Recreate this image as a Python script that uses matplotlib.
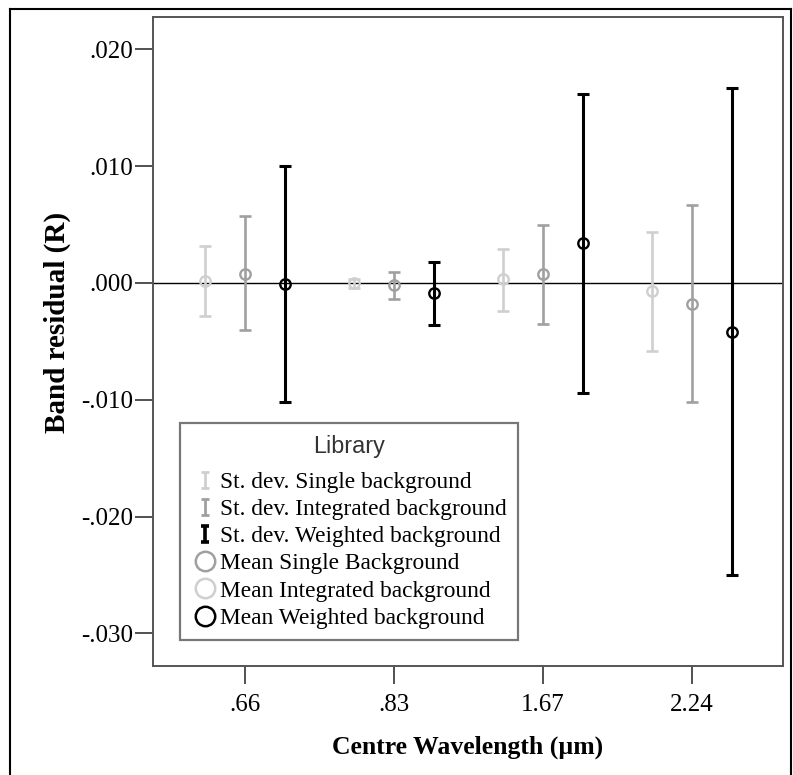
import matplotlib.pyplot as plt
import numpy as np
from matplotlib.path import Path
from matplotlib.lines import Line2D

# 数据
bands = ['.66', '.83', '1.67', '2.24']
y_ticks = [0.020, 0.010, 0.000, -0.010, -0.020, -0.030]
y_tick_labels = ['.020', '.010', '.000', '-.010', '-.020', '-.030']

mean_single = [0.0002, 0.0000, 0.0003, -0.0007]
upper_single = [0.0032, 0.0003, 0.0029, 0.0044]
lower_single = [-0.0028, -0.0004, -0.0024, -0.0058]

mean_integrated = [0.0008, -0.0002, 0.0008, -0.0018]
upper_integrated = [0.0057, 0.0009, 0.0050, 0.0067]
lower_integrated = [-0.0040, -0.0014, -0.0035, -0.0102]

mean_weighted = [-0.0001, -0.0009, 0.0034, -0.0042]
upper_weighted = [0.0100, 0.0018, 0.0162, 0.0167]
lower_weighted = [-0.0102, -0.0036, -0.0094, -0.0250]

light = '#cfcfcf'
mid = '#a0a0a0'
dark = '#000000'

fig = plt.figure(figsize=(7.93, 7.75), dpi=100)
ax = fig.add_axes([153 / 793, 1 - 666 / 775, 630 / 793, 649 / 775])

# 外框
for xs, ys in [([10, 10], [775, 9]), ([10, 791], [9, 9]), ([791, 791], [9, 775])]:
    fig.add_artist(Line2D([v / 793 for v in xs], [1 - v / 775 for v in ys],
                          color='black', lw=1.5, transform=fig.transFigure))

ax.axhline(0, color='black', lw=1.0, zorder=1)

x = np.arange(len(bands))
series = [
    (mean_single, upper_single, lower_single, light, -0.27, 1.9),
    (mean_integrated, upper_integrated, lower_integrated, mid, 0.0, 1.9),
    (mean_weighted, upper_weighted, lower_weighted, dark, 0.27, 2.2),
]
for mean, up, lo, col, off, lw in series:
    mean = np.array(mean)
    yerr = [mean - np.array(lo), np.array(up) - mean]
    ax.errorbar(x + off, mean, yerr=yerr, fmt='none', ecolor=col, elinewidth=lw,
                capsize=4.5, capthick=lw, zorder=2)
    ax.plot(x + off, mean, linestyle='none', marker='o', markersize=7.5,
            markerfacecolor='none', markeredgecolor=col, markeredgewidth=1.7, zorder=3)

ax.set_xlim(-0.617, 3.61)
ax.set_ylim(-0.0328, 0.02277)
ax.set_xticks(x)
ax.set_xticklabels(bands)
ax.set_yticks(y_ticks)
ax.set_yticklabels(y_tick_labels)

for s in ax.spines.values():
    s.set_color('#555555')
    s.set_linewidth(1.4)
ax.tick_params(axis='both', length=13, width=1.1, color='#222222', direction='out',
               labelsize=18)
ax.tick_params(axis='x', pad=7)
ax.tick_params(axis='y', pad=1)
for lab in ax.get_xticklabels() + ax.get_yticklabels():
    lab.set_family('Liberation Serif')

ax.set_xlabel('Centre Wavelength (µm)', fontsize=18.5, fontweight='bold',
              family='Liberation Serif', labelpad=14)
ax.set_ylabel('Band residual (R)', fontsize=21, fontweight='bold',
              family='Liberation Serif')
ax.yaxis.set_label_coords(-0.130, 0.53)

# 图例
ibar = Path([(-0.5, 1), (0.5, 1), (0, 1), (0, -1), (-0.5, -1), (0.5, -1)],
            [Path.MOVETO, Path.LINETO, Path.MOVETO, Path.LINETO, Path.MOVETO, Path.LINETO])
handles = [
    Line2D([], [], linestyle='none', marker=ibar, markersize=12, markeredgewidth=2.0, color=light),
    Line2D([], [], linestyle='none', marker=ibar, markersize=12, markeredgewidth=2.0, color=mid),
    Line2D([], [], linestyle='none', marker=ibar, markersize=12, markeredgewidth=2.6, color=dark),
    Line2D([], [], linestyle='none', marker='o', markersize=14, markerfacecolor='none',
           markeredgecolor=mid, markeredgewidth=1.8),
    Line2D([], [], linestyle='none', marker='o', markersize=14, markerfacecolor='none',
           markeredgecolor=light, markeredgewidth=1.8),
    Line2D([], [], linestyle='none', marker='o', markersize=14, markerfacecolor='none',
           markeredgecolor=dark, markeredgewidth=1.8),
]
labels = ['St. dev. Single background', 'St. dev. Integrated background',
          'St. dev. Weighted background', 'Mean Single Background',
          'Mean Integrated background', 'Mean Weighted background']
leg = ax.legend(handles, labels, title='Library', loc='upper left',
                bbox_to_anchor=(0.043, 0.3744), borderaxespad=0,
                prop={'family': 'Liberation Serif', 'size': 16.8},
                title_fontproperties={'family': 'Liberation Sans', 'size': 16.8},
                handlelength=1.1, handletextpad=0.1, labelspacing=0.25,
                borderpad=0.5, fancybox=False, framealpha=1)
leg.get_frame().set_edgecolor('#777777')
leg.get_frame().set_linewidth(1.6)
leg.get_title().set_color('#333333')
leg._legend_box.sep = 10  # 标题与条目之间的间距

fig.savefig('out.png', dpi=100)
